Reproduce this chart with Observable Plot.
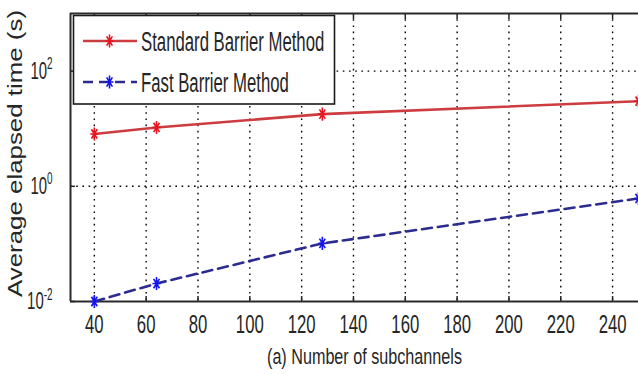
<!DOCTYPE html>
<html>
<head>
<meta charset="utf-8">
<script src="https://cdn.jsdelivr.net/npm/d3@7"></script>
<script src="https://cdn.jsdelivr.net/npm/@observablehq/plot@0.6"></script>
<style>
html, body { margin: 0; padding: 0; background: #fff; }
#chart { position: relative; width: 638px; height: 374px; overflow: hidden; }
#chart svg { font-family: "Liberation Sans", Arial, sans-serif; }
</style>
</head>
<body>
<div id="chart"></div>
<script>
// ---- data ----
const subchannels = [40, 64, 128, 250];
const standardTime = [8.1, 10.5, 17.9, 30];
const fastTime = [0.01, 0.0205, 0.102, 0.615];
const seriesNames = ["Standard Barrier Method", "Fast Barrier Method"];
const lineColors = ["#cc3c40", "#2c2c90"];
const markerColors = ["#e8141e", "#1414ee"];
const xTicks = [40, 60, 80, 100, 120, 140, 160, 180, 200, 220, 240];
const yTicks = [0.01, 1, 100];
const yTickExponents = ["-2", "0", "2"];
const xLabel = "(a) Number of subchannels";
const yLabel = "Average elapsed time (s)";
const xDomain = [30.8, 250];
const yDomain = [0.01, 1000];

const stdRows = subchannels.map((x, i) => ({x, y: standardTime[i], s: seriesNames[0]}));
const fastRows = subchannels.map((x, i) => ({x, y: fastTime[i], s: seriesNames[1]}));

// MATLAB-like asterisk marker, taller than wide
function drawStar(ctx, ry) {
  const rx = ry * 0.62, d = 0.72;
  ctx.moveTo(0, -ry); ctx.lineTo(0, ry);
  ctx.moveTo(-rx, 0); ctx.lineTo(rx, 0);
  ctx.moveTo(-rx * d, -ry * d); ctx.lineTo(rx * d, ry * d);
  ctx.moveTo(-rx * d, ry * d); ctx.lineTo(rx * d, -ry * d);
}
const star = { draw(ctx, size) { drawStar(ctx, Math.sqrt(size)); } };

const gridStyle = {stroke: "#000", strokeOpacity: 1, strokeWidth: 1.4, strokeDasharray: "1.6,4.6"};
const frameStyle = {stroke: "#2a2a2a", strokeWidth: 2};
const textColor = "#262626";

const plot = Plot.plot({
  width: 638,
  height: 374,
  marginLeft: 70,
  marginRight: 0,
  marginTop: 13,
  marginBottom: 73,
  style: {background: "white", fontFamily: "Liberation Sans, Arial, sans-serif", color: textColor},
  x: {domain: xDomain, ticks: xTicks},
  y: {type: "log", domain: yDomain, ticks: yTicks},
  marks: [
    Plot.gridX(xTicks, gridStyle),
    Plot.gridY(yTicks.filter(v => v > yDomain[0]), gridStyle),
    Plot.ruleY([yDomain[0]], frameStyle),
    Plot.ruleY([yDomain[1]], frameStyle),
    Plot.ruleX([xDomain[0]], frameStyle),
    Plot.axisX(xTicks, {anchor: "bottom", tickSize: -5, tickPadding: 18, fontSize: 26, strokeWidth: 1.5,
      label: xLabel, labelAnchor: "center", labelArrow: "none", labelOffset: 66}),
    Plot.axisX(xTicks, {anchor: "top", tickSize: -5, strokeWidth: 1.5, tickFormat: () => "", label: null}),
    Plot.axisY(yTicks, {anchor: "left", tickSize: -5, tickPadding: 23, fontSize: 24, strokeWidth: 1.5,
      tickFormat: d => "10^" + yTickExponents[yTicks.indexOf(d)],
      label: yLabel, labelAnchor: "center", labelArrow: "none", labelOffset: 64}),
    Plot.line(stdRows, {x: "x", y: "y", stroke: lineColors[0], strokeWidth: 2.6}),
    Plot.line(fastRows, {x: "x", y: "y", stroke: lineColors[1], strokeWidth: 2.6, strokeDasharray: "10,6"}),
    Plot.dot(stdRows, {x: "x", y: "y", symbol: star, r: 3.7, fill: "none", stroke: markerColors[0], strokeWidth: 1.6}),
    Plot.dot(fastRows, {x: "x", y: "y", symbol: star, r: 3.7, fill: "none", stroke: markerColors[1], strokeWidth: 1.6})
  ]
});

document.getElementById("chart").appendChild(plot);
const svg = d3.select(plot);

function squeeze(el, fn) {
  const L = el.getComputedTextLength();
  el.setAttribute("textLength", fn(L).toFixed(1));
  el.setAttribute("lengthAdjust", "spacingAndGlyphs");
}

// condensed tick labels like the reference
svg.selectAll('g[aria-label="x-axis tick label"] text').each(function() {
  this.setAttribute("font-size", 26.5);
  this.setAttribute("fill", textColor);
  if (this.textContent) squeeze(this, L => L * 0.63);
});
svg.selectAll('g[aria-label="y-axis tick label"] text').each(function() {
  this.setAttribute("font-size", 24);
  this.setAttribute("fill", textColor);
  this.setAttribute("text-anchor", "end");
  const parts = this.textContent.split("^");
  if (parts.length === 2) {
    this.textContent = parts[0];
    d3.select(this).append("tspan").attr("dy", "-0.6em").attr("font-size", 16).text(parts[1]);
  }
  squeeze(this, L => L * 0.62);
});

// axis titles
function placeLabel(sel, transform, size, target) {
  const g = plot.querySelector(sel);
  if (!g) return;
  g.removeAttribute("transform");
  g.setAttribute("text-anchor", "middle");
  const t = g.querySelector("text");
  ["x", "y", "dx", "dy"].forEach(a => t.removeAttribute(a));
  t.setAttribute("transform", transform);
  t.setAttribute("font-size", size);
  t.setAttribute("fill", textColor);
  squeeze(t, () => target);
}
placeLabel('g[aria-label="x-axis label"]', "translate(364.5,364)", 22, 195);
placeLabel('g[aria-label="y-axis label"]', "translate(22,153.5) rotate(-90)", 20, 287);

// legend box (inside the plot, top-left)
const lg = svg.append("g").attr("aria-label", "legend").attr("text-anchor", "start");
lg.append("rect").attr("x", 73.5).attr("y", 15.5).attr("width", 261).attr("height", 88.5)
  .attr("fill", "white").attr("stroke", "#1a1a1a").attr("stroke-width", 1.6);
seriesNames.forEach((name, i) => {
  const cy = 41 + i * 41;
  lg.append("line").attr("x1", 83).attr("x2", 137).attr("y1", cy).attr("y2", cy)
    .attr("stroke", lineColors[i]).attr("stroke-width", 2.6)
    .attr("stroke-dasharray", i === 1 ? "10,6" : null);
  const p = d3.path();
  drawStar(p, 6.5);
  lg.append("path").attr("d", p.toString()).attr("transform", `translate(109.5,${cy})`)
    .attr("fill", "none").attr("stroke", markerColors[i]).attr("stroke-width", 1.6);
  const t = lg.append("text").attr("x", 141).attr("y", cy + 9.7).attr("font-size", 27)
    .attr("text-anchor", "start").attr("fill", textColor).text(name);
  squeeze(t.node(), L => L * 0.62);
});
</script>
</body>
</html>
